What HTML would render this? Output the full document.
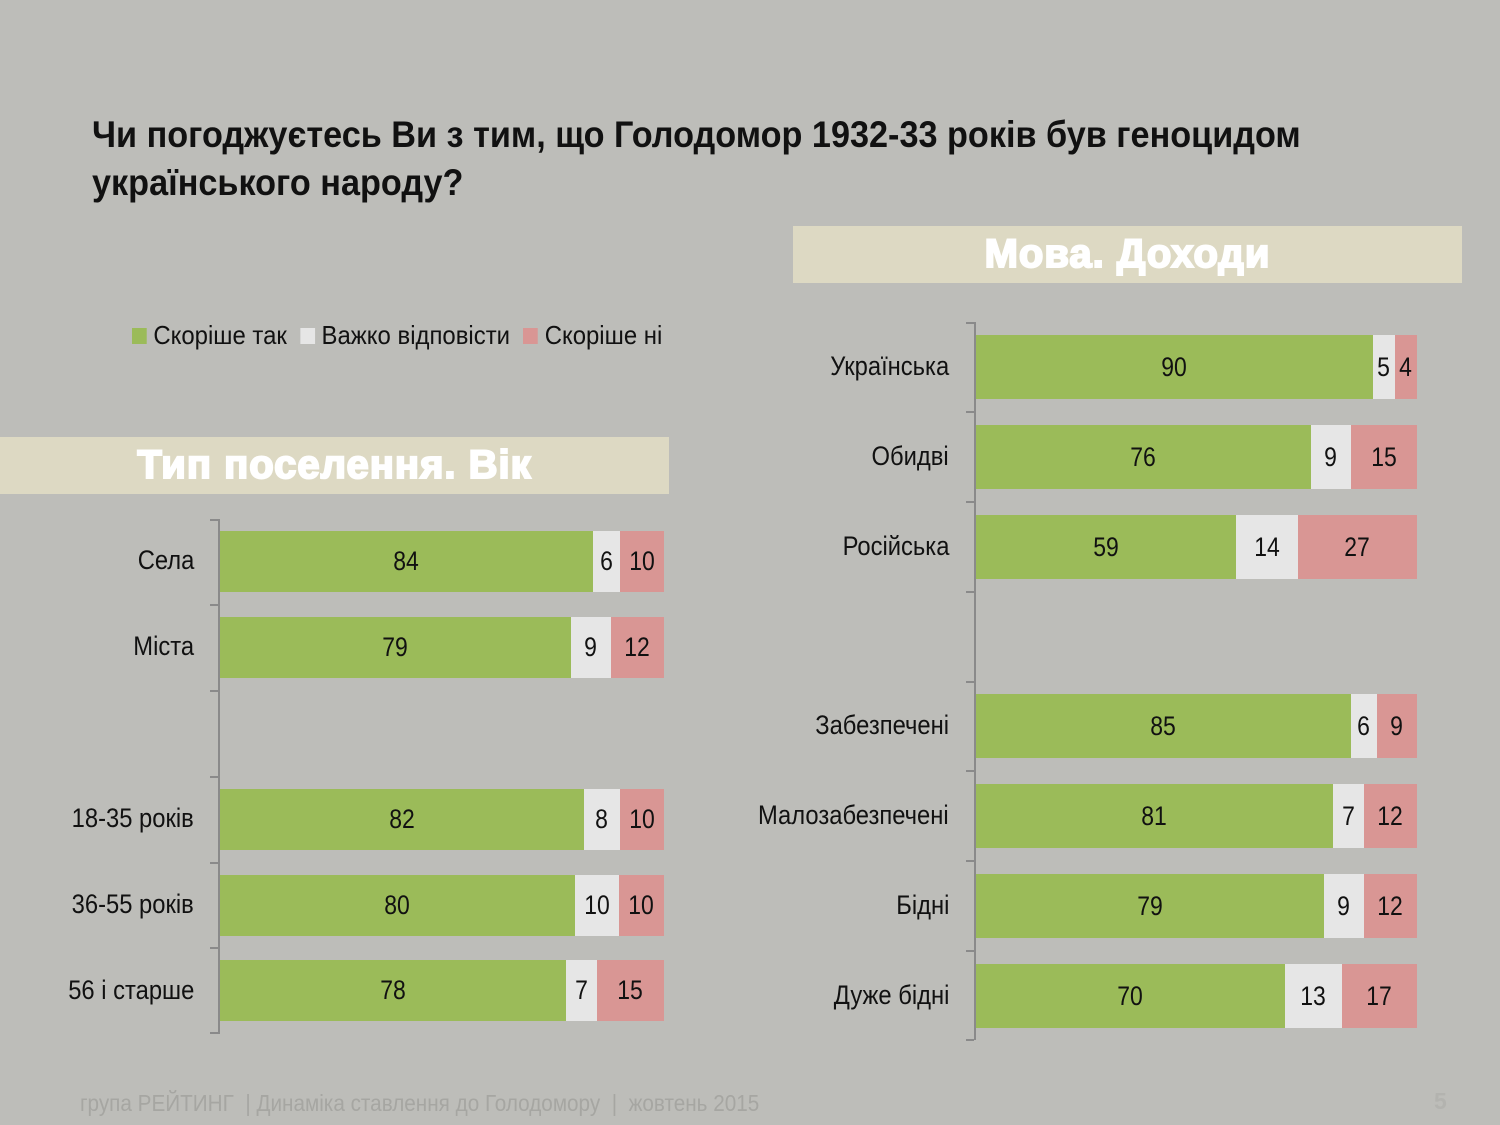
<!DOCTYPE html>
<html><head><meta charset="utf-8"><style>
body{margin:0;width:1500px;height:1125px;background:#bdbdb9;position:relative;overflow:hidden;font-family:"Liberation Sans",sans-serif;}
.a{position:absolute}
.t{font-weight:bold;font-size:37px;color:#111;left:92px;line-height:48px;transform:scaleX(0.925);transform-origin:0 0;white-space:nowrap}
.band{background:#ddd9c3;position:absolute;color:#fff;font-weight:900;font-size:40px;text-align:center;-webkit-text-stroke:2px #fff;letter-spacing:1px}
.bar{position:absolute;display:flex;font-size:27px;color:#111}
.bar div{display:flex;align-items:center;justify-content:center;height:100%}
.bar span{display:inline-block;transform:scaleX(0.85)}
.g{background:#9bbb59}.w{background:#e6e6e6}.r{background:#d99694}
.lab{position:absolute;font-size:27px;color:#111;text-align:right;transform:scaleX(0.88);transform-origin:100% 0;white-space:nowrap}
.ax{position:absolute;width:2px;background:#8a8a8a}
.tk{position:absolute;height:2px;width:8px;background:#8a8a8a}
</style></head><body>
<div class="a t" style="top:111px">Чи погоджуєтесь Ви з тим, що Голодомор 1932-33 років був геноцидом<br>українського народу?</div>

<div class="a" style="top:320px;left:132px;font-size:26px;color:#111;white-space:nowrap;transform:scaleX(0.92);transform-origin:0 0">
<span style="display:inline-block;width:16px;height:16px;background:#9bbb59"></span> Скоріше так&nbsp;&nbsp;<span style="display:inline-block;width:16px;height:16px;background:#e6e6e6"></span> Важко відповісти&nbsp;&nbsp;<span style="display:inline-block;width:16px;height:16px;background:#d99694"></span> Скоріше ні</div>

<div class="band" style="left:0;top:437px;width:669px;height:57px;line-height:57px">Тип поселення. Вік</div>
<div class="band" style="left:793px;top:226px;width:669px;height:57px;line-height:57px">Мова. Доходи</div>

<div class="ax" style="left:218px;top:519px;height:515px"></div>
<div class="tk" style="left:210px;top:519px"></div><div class="tk" style="left:210px;top:604px"></div><div class="tk" style="left:210px;top:690px"></div><div class="tk" style="left:210px;top:776px"></div><div class="tk" style="left:210px;top:862px"></div><div class="tk" style="left:210px;top:947px"></div><div class="tk" style="left:210px;top:1032px"></div>

<div class="lab" style="right:1306px;top:545px">Села</div>
<div class="bar" style="left:220px;top:531px;height:61px"><div class="g" style="width:373px"><span>84</span></div><div class="w" style="width:27px"><span>6</span></div><div class="r" style="width:44px"><span>10</span></div></div>
<div class="lab" style="right:1306px;top:631px">Міста</div>
<div class="bar" style="left:220px;top:617px;height:61px"><div class="g" style="width:351px"><span>79</span></div><div class="w" style="width:40px"><span>9</span></div><div class="r" style="width:53px"><span>12</span></div></div>
<div class="lab" style="right:1306px;top:803px">18-35 років</div>
<div class="bar" style="left:220px;top:789px;height:61px"><div class="g" style="width:364px"><span>82</span></div><div class="w" style="width:36px"><span>8</span></div><div class="r" style="width:44px"><span>10</span></div></div>
<div class="lab" style="right:1306px;top:889px">36-55 років</div>
<div class="bar" style="left:220px;top:875px;height:61px"><div class="g" style="width:355px"><span>80</span></div><div class="w" style="width:44px"><span>10</span></div><div class="r" style="width:45px"><span>10</span></div></div>
<div class="lab" style="right:1306px;top:975px">56 і старше</div>
<div class="bar" style="left:220px;top:960px;height:61px"><div class="g" style="width:346px"><span>78</span></div><div class="w" style="width:31px"><span>7</span></div><div class="r" style="width:67px"><span>15</span></div></div>

<div class="ax" style="left:974px;top:322px;height:718px"></div>
<div class="tk" style="left:966px;top:322px"></div><div class="tk" style="left:966px;top:411px"></div><div class="tk" style="left:966px;top:501px"></div><div class="tk" style="left:966px;top:591px"></div><div class="tk" style="left:966px;top:681px"></div><div class="tk" style="left:966px;top:770px"></div><div class="tk" style="left:966px;top:860px"></div><div class="tk" style="left:966px;top:950px"></div><div class="tk" style="left:966px;top:1039px"></div>

<div class="lab" style="right:551px;top:351px">Українська</div>
<div class="bar" style="left:976px;top:335px;height:64px"><div class="g" style="width:397px"><span>90</span></div><div class="w" style="width:22px"><span>5</span></div><div class="r" style="width:22px"><span>4</span></div></div>
<div class="lab" style="right:551px;top:441px">Обидві</div>
<div class="bar" style="left:976px;top:425px;height:64px"><div class="g" style="width:335px"><span>76</span></div><div class="w" style="width:40px"><span>9</span></div><div class="r" style="width:66px"><span>15</span></div></div>
<div class="lab" style="right:551px;top:531px">Російська</div>
<div class="bar" style="left:976px;top:515px;height:64px"><div class="g" style="width:260px"><span>59</span></div><div class="w" style="width:62px"><span>14</span></div><div class="r" style="width:119px"><span>27</span></div></div>
<div class="lab" style="right:551px;top:710px">Забезпечені</div>
<div class="bar" style="left:976px;top:694px;height:64px"><div class="g" style="width:375px"><span>85</span></div><div class="w" style="width:26px"><span>6</span></div><div class="r" style="width:40px"><span>9</span></div></div>
<div class="lab" style="right:551px;top:800px">Малозабезпечені</div>
<div class="bar" style="left:976px;top:784px;height:64px"><div class="g" style="width:357px"><span>81</span></div><div class="w" style="width:31px"><span>7</span></div><div class="r" style="width:53px"><span>12</span></div></div>
<div class="lab" style="right:551px;top:890px">Бідні</div>
<div class="bar" style="left:976px;top:874px;height:64px"><div class="g" style="width:348px"><span>79</span></div><div class="w" style="width:40px"><span>9</span></div><div class="r" style="width:53px"><span>12</span></div></div>
<div class="lab" style="right:551px;top:980px">Дуже бідні</div>
<div class="bar" style="left:976px;top:964px;height:64px"><div class="g" style="width:309px"><span>70</span></div><div class="w" style="width:57px"><span>13</span></div><div class="r" style="width:75px"><span>17</span></div></div>

<div class="a" style="left:80px;top:1090px;font-size:23px;color:#a6a6a2;white-space:nowrap;transform:scaleX(0.9);transform-origin:0 0">група РЕЙТИНГ &nbsp;| Динаміка ставлення до Голодомору &nbsp;| &nbsp;жовтень 2015</div>
<div class="a" style="left:1434px;top:1088px;font-size:23px;font-weight:bold;color:#b3b3af">5</div>
</body></html>
